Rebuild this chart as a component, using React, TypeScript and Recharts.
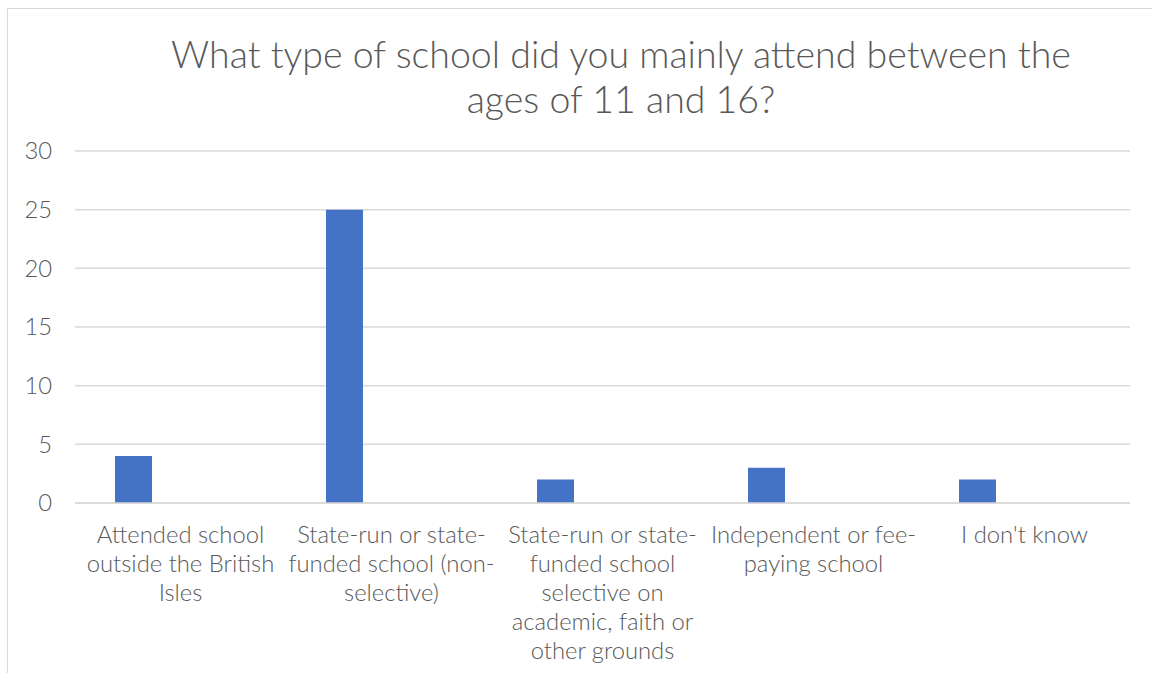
import React from "react";
import { BarChart, Bar, XAxis, YAxis, CartesianGrid } from "recharts";

// survey question: school type, age 11-16
const titleLines = ["What type of school did you mainly attend between the", "ages of 11 and 16?"];

const categories = [
  "Attended school\noutside the British\nIsles",
  "State-run or state-\nfunded school (non-\nselective)",
  "State-run or state-\nfunded school\nselective on\nacademic, faith or\nother grounds",
  "Independent or fee-\npaying school",
  "I don't know",
];
const counts = [4, 25, 2, 3, 2];
const emptySeries = [null, null, null, null, null];
const yTicks = [0, 5, 10, 15, 20, 25, 30];

const data = categories.map((c, i) => ({ name: c, count: counts[i], other: emptySeries[i] }));

const GREY = "#595959";

function CategoryTick(props: any) {
  const { x, y, payload } = props;
  const lines = String(payload.value).split("\n");
  return (
    <text x={x} y={y} textAnchor="middle" fill={GREY} fontSize={23.8} fontWeight={300} fontFamily="Lato">
      {lines.map((l, i) => (
        <tspan key={i} x={x} dy={i === 0 ? 40 : 29}>
          {l}
        </tspan>
      ))}
    </text>
  );
}

export default function App() {
  return (
    <div style={{ position: "fixed", inset: 0, overflow: "hidden", background: "#fff" }}>
      <div
        style={{
          position: "absolute",
          left: 7,
          top: 8,
          width: 1230,
          height: 700,
          border: "1px solid #d9d9d9",
          boxSizing: "border-box",
        }}
      >
        <div
          style={{
            position: "absolute",
            left: 0,
            top: 22,
            width: 1226,
            textAlign: "center",
            fontFamily: "Lato",
            fontWeight: 300,
            fontSize: 37.5,
            lineHeight: "45px",
            color: GREY,
          }}
        >
          {titleLines.map((t, i) => (
            <div key={i}>{t}</div>
          ))}
        </div>
        <div style={{ position: "absolute", left: 0, top: 0 }}>
          <BarChart
            width={1228}
            height={690}
            data={data}
            margin={{ top: 142, right: 106, bottom: 36, left: 0 }}
            barGap={57}
          >
            <CartesianGrid vertical={false} stroke="#d9d9d9" strokeWidth={1.5} />
            <XAxis
              dataKey="name"
              interval={0}
              height={160}
              tickLine={false}
              tickSize={0}
              tickMargin={0}
              axisLine={{ stroke: "#d9d9d9", strokeWidth: 1.5 }}
              tick={<CategoryTick />}
            />
            <YAxis
              width={67}
              domain={[0, 30]}
              ticks={yTicks}
              axisLine={false}
              tickLine={false}
              tickSize={0}
              tickMargin={23}
              tick={{ fill: GREY, fontSize: 23.8, fontWeight: 300, fontFamily: "Lato" }}
            />
            <Bar dataKey="count" fill="#4472C4" barSize={37} isAnimationActive={false} />
            <Bar dataKey="other" fill="#ED7D31" barSize={37} isAnimationActive={false} />
          </BarChart>
        </div>
      </div>
    </div>
  );
}
